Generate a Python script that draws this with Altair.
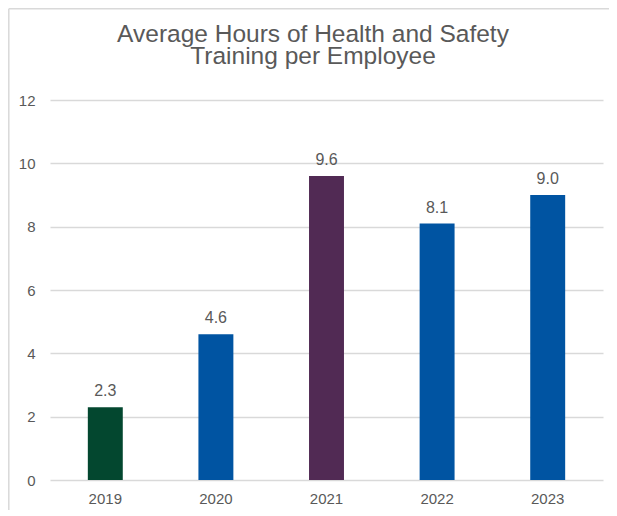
import altair as alt
import pandas as pd

years = ["2019", "2020", "2021", "2022", "2023"]
hours = [2.3, 4.6, 9.6, 8.1, 9.0]
bar_colors = ["#03472F", "#0054A2", "#512A54", "#0054A2", "#0054A2"]
title_lines = ["Average Hours of Health and Safety", "Training per Employee"]

df = pd.DataFrame({"year": years, "hours": hours})
one = pd.DataFrame({"k": [0]})

FONT = "Liberation Sans"
GREY = "#595959"
GRID = "#D9D9D9"

x_enc = alt.X(
    "year:N",
    sort=years,
    title=None,
    scale=alt.Scale(paddingInner=0.684, paddingOuter=0.342),
    axis=alt.Axis(labelAngle=0, labelFontSize=15, labelColor=GREY, labelFont=FONT,
                  ticks=False, domain=False, labelPadding=11, grid=False),
)
y_enc = alt.Y(
    "hours:Q",
    title=None,
    scale=alt.Scale(domain=[0, 12], nice=False),
    axis=alt.Axis(values=[0, 2, 4, 6, 8, 10, 12], labelFontSize=15, labelColor=GREY,
                  labelFont=FONT, ticks=False, domain=False, labelPadding=15,
                  gridColor=GRID, gridWidth=1.3),
)

bars = alt.Chart(df).mark_bar().encode(
    x=x_enc,
    y=y_enc,
    color=alt.Color("year:N", scale=alt.Scale(domain=years, range=bar_colors), legend=None),
)

labels = alt.Chart(df).mark_text(
    baseline="alphabetic", dy=-11, fontSize=16, color=GREY, font=FONT
).encode(
    x=alt.X("year:N", sort=years),
    y="hours:Q",
    text=alt.Text("hours:Q", format=".1f"),
)

title1 = alt.Chart(one).mark_text(
    fontSize=24.5, color=GREY, font=FONT, align="center", baseline="alphabetic"
).encode(x=alt.value(263), y=alt.value(-58), text=alt.value(title_lines[0]))
title2 = alt.Chart(one).mark_text(
    fontSize=24.5, color=GREY, font=FONT, align="center", baseline="alphabetic"
).encode(x=alt.value(263), y=alt.value(-36.5), text=alt.value(title_lines[1]))

border_left = alt.Chart(one).mark_rule(color=GRID, strokeWidth=1.5).encode(
    x=alt.value(-41.2), y=alt.value(-91.2), y2=alt.value(420)
)
border_top = alt.Chart(one).mark_rule(color=GRID, strokeWidth=1.5).encode(
    x=alt.value(-41.2), x2=alt.value(570), y=alt.value(-91.2)
)

chart = alt.layer(border_left, border_top, bars, labels, title1, title2).properties(
    width=553,
    height=380,
    background="white",
    autosize=alt.AutoSizeParams(type="none"),
    padding={"left": 42, "top": 92, "right": 6, "bottom": 30},
).configure_view(strokeWidth=0, stroke="transparent")

chart.save("out.html", embed_options={"renderer": "svg", "actions": False})
